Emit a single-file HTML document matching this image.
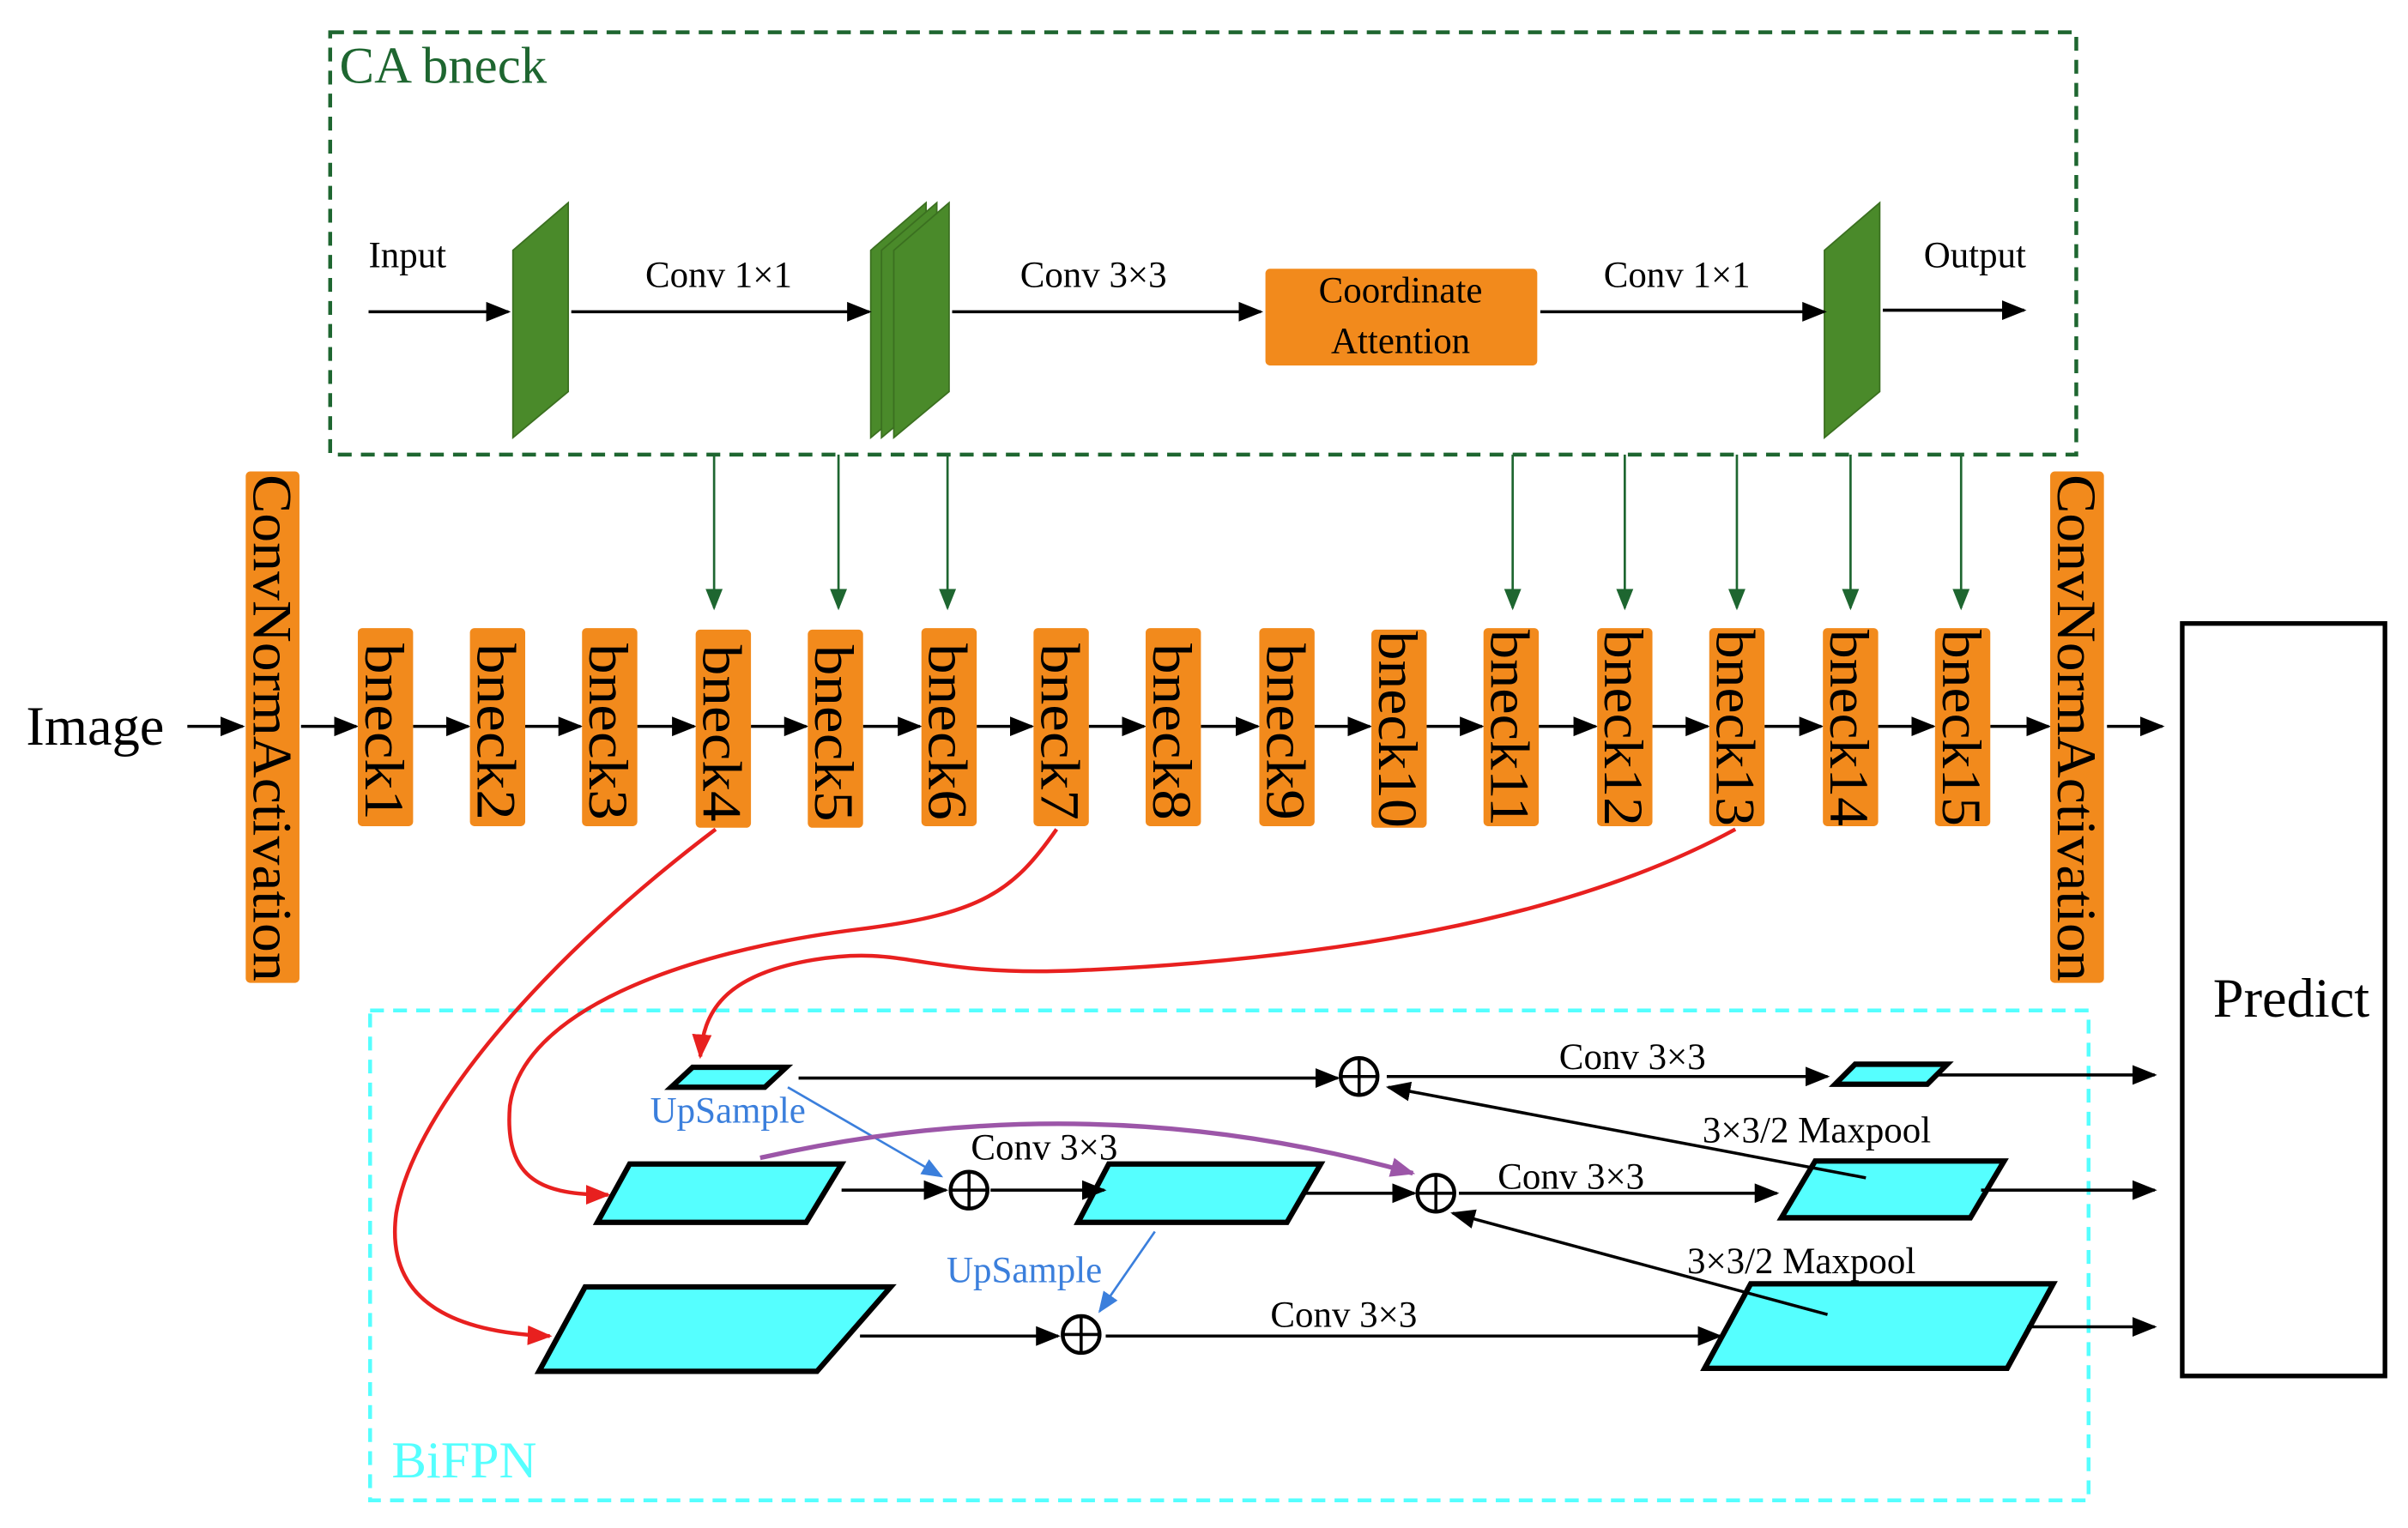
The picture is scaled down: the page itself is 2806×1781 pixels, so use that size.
<!DOCTYPE html>
<html><head><meta charset="utf-8"><style>html,body{margin:0;padding:0;background:#fff}svg{display:block}svg text{font-family:"Liberation Serif",serif}</style></head>
<body>
<svg width="2806" height="1781" viewBox="0 0 1568 995" preserveAspectRatio="none" xmlns="http://www.w3.org/2000/svg">
<defs>
<marker id="a" viewBox="0 0 10 10" refX="9" refY="5" markerWidth="16" markerHeight="16" orient="auto" markerUnits="userSpaceOnUse"><path d="M0,1 L10,5 L0,9 z" fill="#000"/></marker>
<marker id="ag" viewBox="0 0 10 10" refX="9" refY="5" markerWidth="14" markerHeight="14" orient="auto" markerUnits="userSpaceOnUse"><path d="M0,1 L10,5 L0,9 z" fill="#1e6630"/></marker>
<marker id="ar" viewBox="0 0 10 10" refX="9" refY="5" markerWidth="16" markerHeight="16" orient="auto" markerUnits="userSpaceOnUse"><path d="M0,1 L10,5 L0,9 z" fill="#e8201f"/></marker>
<marker id="abl" viewBox="0 0 10 10" refX="9" refY="5" markerWidth="14" markerHeight="14" orient="auto" markerUnits="userSpaceOnUse"><path d="M0,1 L10,5 L0,9 z" fill="#3b7fdc"/></marker>
<marker id="ap" viewBox="0 0 10 10" refX="9" refY="5" markerWidth="16" markerHeight="16" orient="auto" markerUnits="userSpaceOnUse"><path d="M0,1 L10,5 L0,9 z" fill="#9c56a8"/></marker>
</defs>

<rect x="215" y="21" width="1137" height="275" fill="none" stroke="#1e6630" stroke-width="2.5" stroke-dasharray="9,6"/>
<text x="221" y="54" font-size="34" fill="#1e6630">CA bneck</text>
<text x="240" y="174" font-size="24">Input</text>
<line x1="240" y1="203" x2="331" y2="203" stroke="#000" stroke-width="2" marker-end="url(#a)"/>
<g fill="#4a8a2a" stroke="#3b7020" stroke-width="1">
<polygon points="334,163 370,132 370,255 334,285"/>
<polygon points="567,163 603,132 603,255 567,285"/>
<polygon points="574,163 610,132 610,255 574,285"/>
<polygon points="582,163 618,132 618,255 582,285"/>
<polygon points="1188,163 1224,132 1224,255 1188,285"/>
</g>
<line x1="372" y1="203" x2="566" y2="203" stroke="#000" stroke-width="2" marker-end="url(#a)"/>
<text x="468" y="187" font-size="24" text-anchor="middle">Conv 1×1</text>
<line x1="620" y1="203" x2="821" y2="203" stroke="#000" stroke-width="2" marker-end="url(#a)"/>
<text x="712" y="187" font-size="24" text-anchor="middle">Conv 3×3</text>
<rect x="824" y="175" width="177" height="63" rx="3" fill="#f28a1c"/>
<text x="912" y="197" font-size="24" text-anchor="middle">Coordinate</text>
<text x="912" y="230" font-size="24" text-anchor="middle">Attention</text>
<line x1="1003" y1="203" x2="1188" y2="203" stroke="#000" stroke-width="2" marker-end="url(#a)"/>
<text x="1092" y="187" font-size="24" text-anchor="middle">Conv 1×1</text>
<text x="1286" y="174" font-size="24" text-anchor="middle">Output</text>
<line x1="1226" y1="202" x2="1318" y2="202" stroke="#000" stroke-width="2" marker-end="url(#a)"/>

<g stroke="#1e6630" stroke-width="1.5" marker-end="url(#ag)">
<line x1="465" y1="296" x2="465" y2="396"/><line x1="546" y1="296" x2="546" y2="396"/><line x1="617" y1="296" x2="617" y2="396"/>
<line x1="985" y1="296" x2="985" y2="396"/><line x1="1058" y1="296" x2="1058" y2="396"/><line x1="1131" y1="296" x2="1131" y2="396"/><line x1="1205" y1="296" x2="1205" y2="396"/><line x1="1277" y1="296" x2="1277" y2="396"/>
</g>

<text x="17" y="485" font-size="36">Image</text>
<g stroke="#000" stroke-width="2" marker-end="url(#a)">
<line x1="122" y1="473" x2="158" y2="473"/>
<line x1="196" y1="473" x2="232" y2="473"/><line x1="269" y1="473" x2="305" y2="473"/><line x1="342" y1="473" x2="378" y2="473"/><line x1="415" y1="473" x2="452" y2="473"/><line x1="489" y1="473" x2="525" y2="473"/><line x1="562" y1="473" x2="599" y2="473"/><line x1="636" y1="473" x2="672" y2="473"/><line x1="709" y1="473" x2="745" y2="473"/><line x1="782" y1="473" x2="819" y2="473"/><line x1="856" y1="473" x2="892" y2="473"/><line x1="929" y1="473" x2="965" y2="473"/><line x1="1002" y1="473" x2="1039" y2="473"/><line x1="1076" y1="473" x2="1112" y2="473"/><line x1="1149" y1="473" x2="1186" y2="473"/><line x1="1223" y1="473" x2="1259" y2="473"/><line x1="1296" y1="473" x2="1334" y2="473"/>
<line x1="1372" y1="473" x2="1408" y2="473"/>
</g>
<g fill="#f28a1c">
<rect x="160" y="307" width="35" height="333" rx="3"/><rect x="1335" y="307" width="35" height="333" rx="3"/>
<rect x="233" y="409" width="36" height="129" rx="3"/><rect x="306" y="409" width="36" height="129" rx="3"/><rect x="379" y="409" width="36" height="129" rx="3"/><rect x="453" y="410" width="36" height="129" rx="3"/><rect x="526" y="410" width="36" height="129" rx="3"/><rect x="600" y="409" width="36" height="129" rx="3"/><rect x="673" y="409" width="36" height="129" rx="3"/><rect x="746" y="409" width="36" height="129" rx="3"/><rect x="820" y="409" width="36" height="129" rx="3"/><rect x="893" y="410" width="36" height="129" rx="3"/><rect x="966" y="409" width="36" height="129" rx="3"/><rect x="1040" y="409" width="36" height="129" rx="3"/><rect x="1113" y="409" width="36" height="129" rx="3"/><rect x="1187" y="409" width="36" height="129" rx="3"/><rect x="1260" y="409" width="36" height="129" rx="3"/>
</g>
<g font-size="36">
<text transform="translate(165,309) rotate(90)" textLength="330" lengthAdjust="spacingAndGlyphs">ConvNormActivation</text>
<text transform="translate(1340,309) rotate(90)" textLength="330" lengthAdjust="spacingAndGlyphs">ConvNormActivation</text>
<text transform="translate(238,419) rotate(90)" textLength="115" lengthAdjust="spacingAndGlyphs">bneck1</text>
<text transform="translate(311,419) rotate(90)" textLength="115" lengthAdjust="spacingAndGlyphs">bneck2</text>
<text transform="translate(384,419) rotate(90)" textLength="115" lengthAdjust="spacingAndGlyphs">bneck3</text>
<text transform="translate(458,420) rotate(90)" textLength="115" lengthAdjust="spacingAndGlyphs">bneck4</text>
<text transform="translate(531,420) rotate(90)" textLength="115" lengthAdjust="spacingAndGlyphs">bneck5</text>
<text transform="translate(605,419) rotate(90)" textLength="115" lengthAdjust="spacingAndGlyphs">bneck6</text>
<text transform="translate(678,419) rotate(90)" textLength="115" lengthAdjust="spacingAndGlyphs">bneck7</text>
<text transform="translate(751,419) rotate(90)" textLength="115" lengthAdjust="spacingAndGlyphs">bneck8</text>
<text transform="translate(825,419) rotate(90)" textLength="115" lengthAdjust="spacingAndGlyphs">bneck9</text>
<text transform="translate(898,411) rotate(90)" textLength="128" lengthAdjust="spacingAndGlyphs">bneck10</text>
<text transform="translate(971,410) rotate(90)" textLength="128" lengthAdjust="spacingAndGlyphs">bneck11</text>
<text transform="translate(1045,410) rotate(90)" textLength="128" lengthAdjust="spacingAndGlyphs">bneck12</text>
<text transform="translate(1118,410) rotate(90)" textLength="128" lengthAdjust="spacingAndGlyphs">bneck13</text>
<text transform="translate(1192,410) rotate(90)" textLength="128" lengthAdjust="spacingAndGlyphs">bneck14</text>
<text transform="translate(1265,410) rotate(90)" textLength="128" lengthAdjust="spacingAndGlyphs">bneck15</text>
</g>

<rect x="1421" y="406" width="132" height="490" fill="none" stroke="#000" stroke-width="3"/>
<text x="1492" y="662" font-size="36" text-anchor="middle">Predict</text>

<rect x="241" y="658" width="1119" height="319" fill="none" stroke="#55ffff" stroke-width="2.5" stroke-dasharray="9,6"/>
<text x="255" y="962" font-size="34" fill="#55ffff">BiFPN</text>

<g fill="none" stroke="#e8201f" stroke-width="2.5">
<path d="M466,540 C360,620 270,720 258,790 C250,850 300,868 358,870" marker-end="url(#ar)"/>
<path d="M688,540 C660,580 640,595 560,605 C440,620 340,660 332,720 C328,770 355,778 396,778" marker-end="url(#ar)"/>
<path d="M1130,540 C1020,600 860,625 700,632 C600,636 590,615 530,625 C470,635 458,660 456,688" marker-end="url(#ar)"/>
</g>

<g fill="#55ffff" stroke="#000" stroke-width="3.5">
<polygon points="437,708 451,695 512,695 498,708"/>
<polygon points="1195,706 1208,693 1268,693 1255,706"/>
<polygon points="389,796 410,758 548,758 525,796"/>
<polygon points="702,796 722,758 860,758 838,796"/>
<polygon points="1160,793 1182,756 1305,756 1283,793"/>
<polygon points="351,893 381,838 580,838 532,893"/>
<polygon points="1110,891 1140,836 1337,836 1307,891"/>
</g>

<g stroke="#000" stroke-width="2" marker-end="url(#a)">
<line x1="520" y1="702" x2="871" y2="702"/>
<line x1="903" y1="701" x2="1190" y2="701"/>
<line x1="1262" y1="700" x2="1403" y2="700"/>
<line x1="1215" y1="767" x2="904" y2="708"/>
<line x1="548" y1="775" x2="616" y2="775"/>
<line x1="645" y1="775" x2="719" y2="775"/>
<line x1="848" y1="777" x2="921" y2="777"/>
<line x1="950" y1="777" x2="1157" y2="777"/>
<line x1="1290" y1="775" x2="1403" y2="775"/>
<line x1="1190" y1="856" x2="946" y2="790"/>
<line x1="560" y1="870" x2="689" y2="870"/>
<line x1="720" y1="870" x2="1120" y2="870"/>
<line x1="1320" y1="864" x2="1403" y2="864"/>
</g>
<g fill="#fff" stroke="#000" stroke-width="2.5">
<circle cx="885" cy="701" r="12"/><circle cx="631" cy="775" r="12"/><circle cx="935" cy="777" r="12"/><circle cx="704" cy="869" r="12"/>
</g>
<g stroke="#000" stroke-width="2">
<line x1="873" y1="701" x2="897" y2="701"/><line x1="885" y1="689" x2="885" y2="713"/>
<line x1="619" y1="775" x2="643" y2="775"/><line x1="631" y1="763" x2="631" y2="787"/>
<line x1="923" y1="777" x2="947" y2="777"/><line x1="935" y1="765" x2="935" y2="789"/>
<line x1="692" y1="869" x2="716" y2="869"/><line x1="704" y1="857" x2="704" y2="881"/>
</g>
<g font-size="24">
<text x="1063" y="696" text-anchor="middle">Conv 3×3</text>
<text x="1183" y="744" text-anchor="middle">3×3/2 Maxpool</text>
<text x="680" y="755" text-anchor="middle">Conv 3×3</text>
<text x="1023" y="774" text-anchor="middle">Conv 3×3</text>
<text x="1173" y="829" text-anchor="middle">3×3/2 Maxpool</text>
<text x="875" y="864" text-anchor="middle">Conv 3×3</text>
</g>

<line x1="513" y1="708" x2="613" y2="766" stroke="#3b7fdc" stroke-width="1.5" marker-end="url(#abl)"/>
<line x1="752" y1="802" x2="716" y2="854" stroke="#3b7fdc" stroke-width="1.5" marker-end="url(#abl)"/>
<text x="474" y="731" font-size="24" fill="#3b7fdc" text-anchor="middle">UpSample</text>
<text x="667" y="835" font-size="24" fill="#3b7fdc" text-anchor="middle">UpSample</text>

<path d="M495,754 Q710,705 920,764" fill="none" stroke="#9c56a8" stroke-width="3" marker-end="url(#ap)"/>
</svg>
</body></html>
